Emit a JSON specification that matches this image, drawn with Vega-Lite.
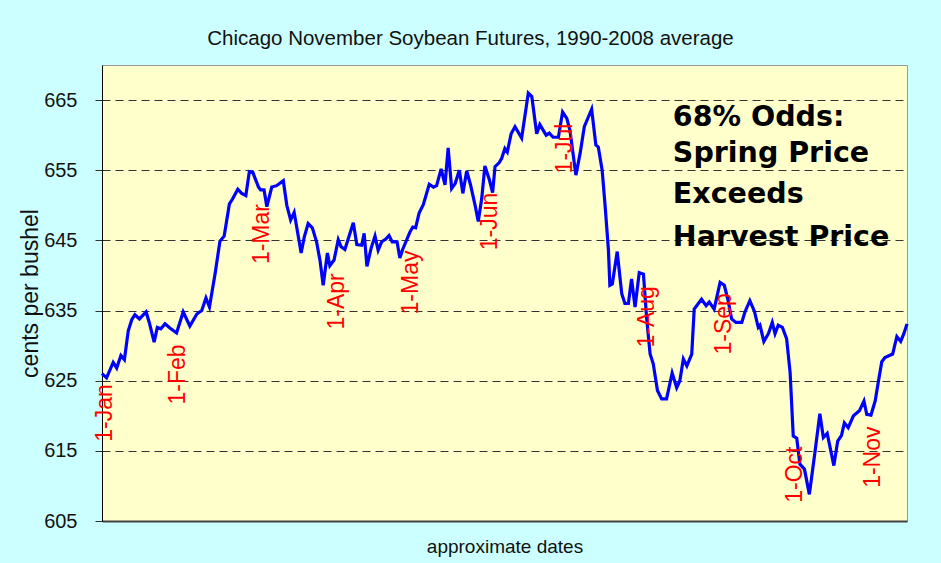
{
  "$schema": "https://vega.github.io/schema/vega-lite/v6.json",
  "autosize": "none",
  "width": 805,
  "height": 456,
  "padding": {"left": 102, "top": 65, "right": 34, "bottom": 42},
  "background": "#CCFFFF",
  "title": {
    "text": "Chicago November Soybean Futures, 1990-2008 average",
    "font": "Liberation Sans",
    "fontSize": 20.5,
    "fontWeight": "normal",
    "color": "#111111",
    "anchor": "middle",
    "dx": -34,
    "offset": 16
  },
  "datasets": {
    "prices": [
      {"day": 0, "price": 626.0}, {"day": 1.3, "price": 625.4}, {"day": 3.2, "price": 627.6}, {"day": 4.2, "price": 626.8},
      {"day": 5.4, "price": 628.6}, {"day": 6.4, "price": 628.0}, {"day": 7.5, "price": 632.1}, {"day": 8.5, "price": 633.7},
      {"day": 9.4, "price": 634.4}, {"day": 10.7, "price": 633.8}, {"day": 12.6, "price": 634.8}, {"day": 13.5, "price": 633.3},
      {"day": 14.9, "price": 630.5}, {"day": 15.8, "price": 632.6}, {"day": 16.8, "price": 632.4}, {"day": 18.0, "price": 633.1},
      {"day": 19.4, "price": 632.5}, {"day": 21.3, "price": 631.8}, {"day": 23.2, "price": 634.8}, {"day": 25.1, "price": 632.8},
      {"day": 27.1, "price": 634.5}, {"day": 28.5, "price": 635.0}, {"day": 29.7, "price": 636.8}, {"day": 30.7, "price": 635.5},
      {"day": 32.3, "price": 640.2}, {"day": 33.7, "price": 644.9}, {"day": 34.9, "price": 645.6}, {"day": 36.4, "price": 650.2},
      {"day": 37.3, "price": 650.9}, {"day": 38.8, "price": 652.3}, {"day": 39.9, "price": 651.7}, {"day": 41.1, "price": 651.4},
      {"day": 42.1, "price": 654.8}, {"day": 43.1, "price": 654.7}, {"day": 44.7, "price": 652.6}, {"day": 45.3, "price": 652.2},
      {"day": 46.3, "price": 652.2}, {"day": 47.1, "price": 649.8}, {"day": 48.5, "price": 652.6}, {"day": 49.9, "price": 652.8},
      {"day": 51.8, "price": 653.5}, {"day": 52.8, "price": 650.0}, {"day": 53.9, "price": 647.9}, {"day": 54.9, "price": 649.0},
      {"day": 56.9, "price": 643.2}, {"day": 57.8, "price": 645.5}, {"day": 58.9, "price": 647.4}, {"day": 60.1, "price": 646.8},
      {"day": 61.3, "price": 644.8}, {"day": 62.3, "price": 642.1}, {"day": 63.2, "price": 638.6}, {"day": 64.4, "price": 643.2},
      {"day": 65.1, "price": 641.4}, {"day": 66.3, "price": 642.2}, {"day": 67.5, "price": 645.1}, {"day": 68.3, "price": 644.1},
      {"day": 69.4, "price": 643.7}, {"day": 71.8, "price": 647.5}, {"day": 72.8, "price": 644.4}, {"day": 74.2, "price": 644.3},
      {"day": 74.9, "price": 646.0}, {"day": 75.7, "price": 641.3}, {"day": 76.9, "price": 643.9}, {"day": 78.0, "price": 645.6},
      {"day": 78.9, "price": 643.6}, {"day": 79.9, "price": 644.8}, {"day": 81.1, "price": 645.2}, {"day": 82.0, "price": 645.7},
      {"day": 82.9, "price": 644.8}, {"day": 84.3, "price": 644.8}, {"day": 85.1, "price": 642.5}, {"day": 85.9, "price": 643.7},
      {"day": 88.0, "price": 646.2}, {"day": 88.8, "price": 646.9}, {"day": 89.6, "price": 646.8}, {"day": 90.6, "price": 648.9},
      {"day": 91.8, "price": 650.1}, {"day": 93.5, "price": 653.0}, {"day": 94.7, "price": 652.6}, {"day": 95.6, "price": 652.8},
      {"day": 96.9, "price": 655.2}, {"day": 98.0, "price": 652.9}, {"day": 98.9, "price": 658.2}, {"day": 99.9, "price": 652.4},
      {"day": 100.9, "price": 653.1}, {"day": 102.1, "price": 655.0}, {"day": 103.1, "price": 651.7}, {"day": 104.2, "price": 654.9},
      {"day": 105.3, "price": 652.9}, {"day": 106.6, "price": 650.0}, {"day": 107.5, "price": 647.7}, {"day": 108.5, "price": 651.0},
      {"day": 109.4, "price": 655.6}, {"day": 110.7, "price": 653.6}, {"day": 111.6, "price": 651.8}, {"day": 112.3, "price": 655.5},
      {"day": 113.5, "price": 656.1}, {"day": 114.2, "price": 656.7}, {"day": 115.1, "price": 658.1}, {"day": 115.8, "price": 657.6},
      {"day": 116.9, "price": 660.2}, {"day": 118.0, "price": 661.2}, {"day": 119.9, "price": 659.6}, {"day": 121.8, "price": 666.0},
      {"day": 122.8, "price": 665.5}, {"day": 124.2, "price": 660.2}, {"day": 125.1, "price": 661.5}, {"day": 126.9, "price": 660.0},
      {"day": 127.8, "price": 660.3}, {"day": 128.9, "price": 659.7}, {"day": 130.4, "price": 659.7}, {"day": 131.6, "price": 663.3},
      {"day": 132.8, "price": 662.4}, {"day": 133.7, "price": 660.7}, {"day": 135.4, "price": 654.3}, {"day": 136.6, "price": 657.4},
      {"day": 137.8, "price": 661.2}, {"day": 139.9, "price": 663.7}, {"day": 141.1, "price": 658.6}, {"day": 141.8, "price": 658.3},
      {"day": 142.9, "price": 655.0}, {"day": 143.7, "price": 650.2}, {"day": 144.7, "price": 643.6}, {"day": 145.1, "price": 638.6},
      {"day": 145.8, "price": 638.8}, {"day": 147.2, "price": 643.4}, {"day": 148.5, "price": 637.4}, {"day": 149.4, "price": 636.0},
      {"day": 150.4, "price": 636.0}, {"day": 151.3, "price": 639.5}, {"day": 152.3, "price": 635.5}, {"day": 153.5, "price": 640.4},
      {"day": 154.7, "price": 640.2}, {"day": 155.6, "price": 634.0}, {"day": 156.6, "price": 628.8}, {"day": 157.5, "price": 627.4},
      {"day": 158.7, "price": 623.6}, {"day": 159.9, "price": 622.4}, {"day": 161.3, "price": 622.4}, {"day": 162.0, "price": 624.0},
      {"day": 162.9, "price": 626.1}, {"day": 164.2, "price": 624.0}, {"day": 165.1, "price": 625.0}, {"day": 166.1, "price": 628.1},
      {"day": 167.1, "price": 627.1}, {"day": 168.5, "price": 628.8}, {"day": 169.2, "price": 635.2}, {"day": 171.3, "price": 636.6},
      {"day": 172.6, "price": 635.7}, {"day": 173.5, "price": 636.2}, {"day": 174.9, "price": 635.2}, {"day": 176.6, "price": 639.0},
      {"day": 177.8, "price": 638.6}, {"day": 178.9, "price": 636.4}, {"day": 179.9, "price": 633.8}, {"day": 181.1, "price": 633.3},
      {"day": 182.8, "price": 633.3}, {"day": 183.7, "price": 634.8}, {"day": 185.1, "price": 636.4}, {"day": 186.4, "price": 634.9},
      {"day": 187.5, "price": 632.6}, {"day": 188.0, "price": 632.9}, {"day": 189.1, "price": 630.6}, {"day": 190.4, "price": 631.7},
      {"day": 191.5, "price": 633.3}, {"day": 192.3, "price": 631.7}, {"day": 193.2, "price": 632.9}, {"day": 194.4, "price": 632.6},
      {"day": 195.6, "price": 631.0}, {"day": 196.6, "price": 626.2}, {"day": 197.5, "price": 617.1}, {"day": 198.5, "price": 616.8},
      {"day": 199.4, "price": 613.1}, {"day": 200.7, "price": 612.4}, {"day": 202.1, "price": 608.8}, {"day": 203.7, "price": 614.8},
      {"day": 205.1, "price": 620.3}, {"day": 206.1, "price": 616.9}, {"day": 207.2, "price": 617.5}, {"day": 209.1, "price": 612.9},
      {"day": 210.2, "price": 616.4}, {"day": 211.3, "price": 617.2}, {"day": 212.1, "price": 619.0}, {"day": 213.2, "price": 618.3},
      {"day": 214.7, "price": 620.0}, {"day": 216.4, "price": 620.7}, {"day": 217.7, "price": 622.1}, {"day": 218.5, "price": 620.2},
      {"day": 219.7, "price": 620.1}, {"day": 220.9, "price": 622.1}, {"day": 221.8, "price": 624.8}, {"day": 222.8, "price": 627.7},
      {"day": 223.7, "price": 628.3}, {"day": 225.9, "price": 628.8}, {"day": 227.1, "price": 631.3}, {"day": 228.2, "price": 630.6},
      {"day": 229.1, "price": 631.7}, {"day": 230.0, "price": 633.1}
    ],
    "months": [
      {"label": "1-Jan", "day": 0.9, "price": 620.4},
      {"label": "1-Feb", "day": 21.7, "price": 625.9},
      {"label": "1-Mar", "day": 45.7, "price": 645.9},
      {"label": "1-Apr", "day": 67.1, "price": 636.3},
      {"label": "1-May", "day": 88.3, "price": 639.0},
      {"label": "1-Jun", "day": 110.9, "price": 647.7},
      {"label": "1-Jul", "day": 132.3, "price": 658.1},
      {"label": "1-Aug", "day": 155.7, "price": 634.1},
      {"label": "1-Sep", "day": 177.7, "price": 633.1},
      {"label": "1-Oct", "day": 198.0, "price": 611.6},
      {"label": "1-Nov", "day": 220.3, "price": 614.1}
    ],
    "note": [
      {"text": "68% Odds:", "day": 163.1, "price": 661.3},
      {"text": "Spring Price", "day": 163.1, "price": 656.2},
      {"text": "Exceeds", "day": 163.1, "price": 650.3},
      {"text": "Harvest Price", "day": 163.1, "price": 644.2}
    ]
  },
  "layer": [
    {
      "data": {"name": "prices"},
      "mark": {"type": "line", "color": "#0000FF", "strokeWidth": 3.2, "strokeJoin": "miter"},
      "encoding": {
        "x": {
          "field": "day", "type": "quantitative",
          "scale": {"domain": [0, 230], "nice": false, "zero": false},
          "axis": {
            "title": "approximate dates", "labels": false, "ticks": false, "grid": false,
            "domain": true, "domainColor": "#404040", "domainWidth": 2,
            "titleFont": "Liberation Sans", "titleFontSize": 19, "titleFontWeight": "normal",
            "titleColor": "#111111", "titlePadding": 16
          }
        },
        "y": {
          "field": "price", "type": "quantitative",
          "scale": {"domain": [605, 670], "nice": false, "zero": false},
          "axis": {
            "title": "cents per bushel", "values": [605, 615, 625, 635, 645, 655, 665],
            "grid": true, "gridDash": [8, 5], "gridColor": "#333333", "gridWidth": 1,
            "domain": true, "domainColor": "#000000", "domainWidth": 1,
            "ticks": true, "tickSize": 7, "tickColor": "#333333",
            "labelFont": "Liberation Sans", "labelFontSize": 20, "labelColor": "#111111", "labelPadding": 18,
            "titleFont": "Liberation Sans", "titleFontSize": 23, "titleFontWeight": "normal", "titleColor": "#111111",
            "titlePadding": 1
          }
        }
      }
    },
    {
      "data": {"name": "months"},
      "mark": {"type": "text", "color": "#FF0000", "font": "Liberation Sans", "fontSize": 23, "angle": 270, "align": "center", "baseline": "middle"},
      "encoding": {
        "x": {"field": "day", "type": "quantitative"},
        "y": {"field": "price", "type": "quantitative"},
        "text": {"field": "label"}
      }
    },
    {
      "data": {"name": "note"},
      "mark": {"type": "text", "color": "#000000", "font": "DejaVu Sans", "fontWeight": "bold", "fontSize": 28.5, "align": "left", "baseline": "alphabetic"},
      "encoding": {
        "x": {"field": "day", "type": "quantitative"},
        "y": {"field": "price", "type": "quantitative"},
        "text": {"field": "text"}
      }
    }
  ],
  "config": {
    "view": {"fill": "#FFFFCC", "stroke": "#999999"}
  }
}
